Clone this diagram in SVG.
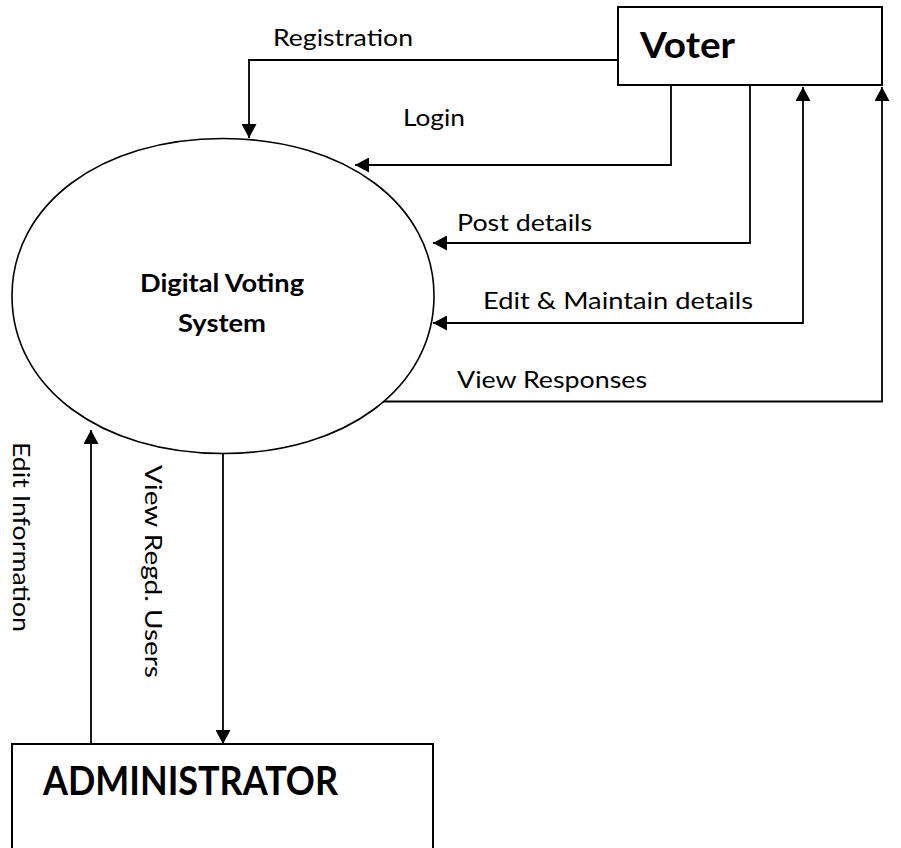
<svg xmlns="http://www.w3.org/2000/svg" width="901" height="848" viewBox="0 0 901 848">
  <style>
    .box { fill: #ffffff; stroke: #000000; stroke-width: 2; }
    .proc { fill: #ffffff; stroke: #000000; stroke-width: 1.6; }
    .flow { fill: none; stroke: #000000; stroke-width: 1.8; }
    .lbl { font-family: Lato, "Open Sans", "Liberation Sans", sans-serif; font-size: 23.5px; fill: #000000; }
    .title { font-family: Lato, "Open Sans", "Liberation Sans", sans-serif; font-weight: bold; fill: #000000; }
  </style>
  <defs>
    <marker id="arrow" markerUnits="userSpaceOnUse" markerWidth="15" markerHeight="15" refX="14" refY="7.5" orient="auto-start-reverse" viewBox="0 0 15 15">
      <path d="M0,0 L14,7.5 L0,15 Z" fill="#000000"/>
    </marker>
  </defs>
  <rect x="0" y="0" width="901" height="848" fill="#ffffff"/>

  <g id="connectors">
    <path id="registration" class="flow" d="M618,60 H249 V138" marker-end="url(#arrow)"/>
    <path id="login" class="flow" d="M671,86 V165 H355" marker-end="url(#arrow)"/>
    <path id="post-details" class="flow" d="M750,86 V243 H433" marker-end="url(#arrow)"/>
    <path id="edit-maintain" class="flow" d="M433,323 H803 V87" marker-start="url(#arrow)" marker-end="url(#arrow)"/>
    <path id="view-responses" class="flow" d="M380,401.5 H882 V87" marker-end="url(#arrow)"/>
    <path id="edit-information" class="flow" d="M91,744 V430" marker-end="url(#arrow)"/>
    <path id="view-regd-users" class="flow" d="M223,453.5 V744" marker-end="url(#arrow)"/>
  </g>

  <g id="labels">
    <text class="lbl" x="273" y="46" textLength="140" lengthAdjust="spacingAndGlyphs">Registration</text>
    <text class="lbl" x="403" y="126" textLength="62" lengthAdjust="spacingAndGlyphs">Login</text>
    <text class="lbl" x="457" y="231" textLength="135" lengthAdjust="spacingAndGlyphs">Post details</text>
    <text class="lbl" x="483" y="309" textLength="270" lengthAdjust="spacingAndGlyphs">Edit &amp; Maintain details</text>
    <text class="lbl" x="457" y="388" textLength="190" lengthAdjust="spacingAndGlyphs">View Responses</text>
    <text class="lbl" transform="translate(13,442) rotate(90)" x="0" y="0" textLength="190" lengthAdjust="spacingAndGlyphs">Edit Information</text>
    <text class="lbl" transform="translate(145,465) rotate(90)" x="0" y="0" textLength="213" lengthAdjust="spacingAndGlyphs">View Regd. Users</text>
  </g>

  <g id="voter">
    <rect class="box" x="618" y="7" width="264" height="78"/>
    <text class="title" x="640" y="58" font-size="37" textLength="95" lengthAdjust="spacingAndGlyphs">Voter</text>
  </g>

  <g id="digital-voting-system">
    <path class="proc" d="M434,296 C434,204.65 345.4,138.5 223,138.5 C100.6,138.5 12,204.65 12,296 C12,387.35 100.6,453.5 223,453.5 C345.4,453.5 434,387.35 434,296 Z"/>
    <text class="title" x="140" y="292" font-size="25" textLength="164" lengthAdjust="spacingAndGlyphs">Digital Voting</text>
    <text class="title" x="178" y="332" font-size="25" textLength="88" lengthAdjust="spacingAndGlyphs">System</text>
  </g>

  <g id="administrator">
    <rect class="box" x="12" y="744" width="421" height="120"/>
    <text class="title" x="43" y="795" font-size="41" textLength="295" lengthAdjust="spacingAndGlyphs">ADMINISTRATOR</text>
  </g>
</svg>
